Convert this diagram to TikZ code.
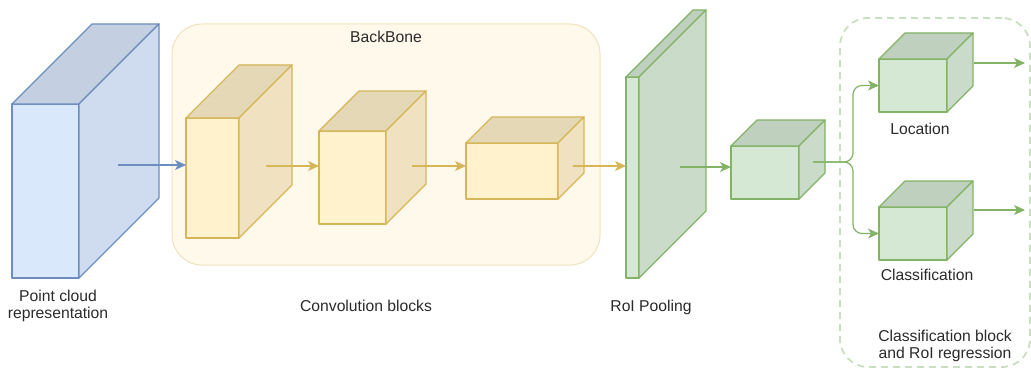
\documentclass[tikz,border=0pt]{standalone}
\usepackage{fontspec}
\setmainfont{Liberation Sans}
\usetikzlibrary{arrows.meta,calc}

\definecolor{bluefront}{HTML}{DAE8FC}
\definecolor{bluetop}{HTML}{C4D0E2}
\definecolor{blueside}{HTML}{CFDCEF}
\definecolor{blueline}{HTML}{6C8EBF}
\definecolor{yelfront}{HTML}{FFF2CC}
\definecolor{yeltop}{HTML}{E5D8B6}
\definecolor{yelside}{HTML}{F0E2C0}
\definecolor{yelline}{HTML}{D6B656}
\definecolor{grnfront}{HTML}{D5E8D4}
\definecolor{grntop}{HTML}{BFD1BE}
\definecolor{grnside}{HTML}{CADCC9}
\definecolor{grnline}{HTML}{82B366}
\definecolor{bbfill}{HTML}{FFF9EC}
\definecolor{bbline}{HTML}{F0E2BC}
\definecolor{frameline}{HTML}{C8DFC0}
\definecolor{txt}{HTML}{2A2A2A}

\tikzset{
  face/.style={line width=1.2pt, line join=round},
  arr/.style={line width=1.2pt, -{Stealth[length=11pt,width=10pt,inset=3pt]}},
  lbl/.style={font=\fontsize{15.7}{17}\selectfont, text=txt, align=center, inner sep=0pt},
}

% \cubeshape{name}{x1}{y1}{x2}{y2}{depth}{colour family}
% the front face is a named node, the top and right faces hang off its corners
\newcommand\cubeshape[7]{%
  \node[face, draw=#7line, fill=#7front, inner sep=0pt, outer sep=0pt,
        minimum width={(#4)-(#2)}, minimum height={(#5)-(#3)}]
        (#1) at ({((#2)+(#4))/2},{((#3)+(#5))/2}) {};
  \draw[face, draw=#7line, fill=#7top] (#1.north west) -- ++(#6,-#6)
        -- ++({(#4)-(#2)},0) -- (#1.north east) -- cycle;
  \draw[face, draw=#7line, fill=#7side] (#1.north east) -- ++(#6,-#6)
        -- ++(0,{(#5)-(#3)}) -- (#1.south east) -- cycle;
}

\begin{document}
\begin{tikzpicture}[x=1pt, y=-1pt]
\useasboundingbox (0,0) rectangle (1031,369);

% containers
\node[draw=bbline, fill=bbfill, line width=1pt, rounded corners=30pt,
      minimum width=428, minimum height=241, inner sep=0pt] (bb) at (386,144.5) {};
\node[lbl, anchor=base] (bbt) at (386,42.5) {BackBone};
\node[draw=frameline, line width=1.8pt, dash pattern=on 7pt off 5pt,
      rounded corners=28pt, minimum width=190, minimum height=349, inner sep=0pt]
      (cb) at (935,192.5) {};

% blocks
\cubeshape{pc}{12}{104}{79}{278}{80}{blue}
\cubeshape{c1}{186}{118}{239}{238}{53}{yel}
\cubeshape{c2}{319}{131}{386}{224}{40}{yel}
\cubeshape{c3}{466}{143}{558}{199}{26}{yel}
\cubeshape{pl}{626}{77}{639}{278}{67}{grn}
\cubeshape{sc}{731}{146}{799}{199}{26}{grn}
\cubeshape{loc}{879}{59}{947}{112}{26}{grn}
\cubeshape{cls}{879}{207}{947}{260}{26}{grn}

% connector start points inside the blocks
\coordinate (pc-out) at (118,165);
\coordinate (c1-out) at (266,166);
\coordinate (c2-out) at (412,166);
\coordinate (c3-out) at (573,166);
\coordinate (pl-out) at (680,167);
\coordinate (sc-out) at (813,162);
\coordinate (loc-out) at (974,63);
\coordinate (loc-end) at (1025,63);
\coordinate (cls-out) at (974,210);
\coordinate (cls-end) at (1025,210);

% connectors
\draw[arr, blueline] (pc-out) -- (pc-out -| c1.west);
\draw[arr, yelline] (c1-out) -- (c1-out -| c2.west);
\draw[arr, yelline] (c2-out) -- (c2-out -| c3.west);
\draw[arr, yelline] (c3-out) -- (c3-out -| pl.west);
\draw[arr, grnline] (pl-out) -- (pl-out -| sc.west);
\draw[arr, grnline, rounded corners=9pt] (sc-out) -- (853,162) |- (loc.west);
\draw[arr, grnline, rounded corners=9pt] (sc-out) -- (853,162) |- (cls.west);
\draw[arr, grnline] (loc-out) -- (loc-end);
\draw[arr, grnline] (cls-out) -- (cls-end);

% labels
\node[lbl] (pct) at (58,306) {Point cloud\\representation};
\node[lbl, anchor=base] (cvt) at (366,311) {Convolution blocks};
\node[lbl, anchor=base] (plt) at (651,311) {RoI Pooling};
\node[lbl, anchor=base] (loct) at (920,134) {Location};
\node[lbl, anchor=base] (clst) at (927,280) {Classification};
\node[lbl] (cbt) at (945,346) {Classification block\\and RoI regression};
\end{tikzpicture}
\end{document}
